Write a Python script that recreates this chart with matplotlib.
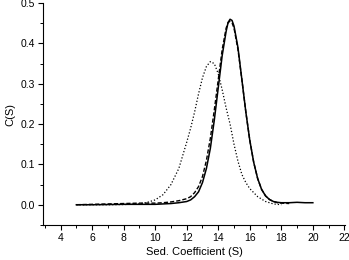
import numpy as np
import matplotlib as mpl
mpl.use("Agg")
import matplotlib.pyplot as plt
from matplotlib.ticker import MultipleLocator

# solid curve
solid_x = [5, 6, 7, 8, 9, 10, 10.5, 11, 11.5, 12, 12.25, 12.5, 12.75, 13.0, 13.25,
           13.5, 13.75, 14.0, 14.25, 14.5, 14.625, 14.75, 14.875, 15.0, 15.25, 15.5,
           15.75, 16.0, 16.25, 16.5, 16.75, 17.0, 17.25, 17.5, 17.75, 18, 18.5, 19,
           19.5, 20]
solid_y = [0.0, 0.0, 0.0005, 0.001, 0.001, 0.001, 0.002, 0.003, 0.005, 0.008, 0.012,
           0.02, 0.032, 0.055, 0.09, 0.14, 0.21, 0.29, 0.37, 0.43, 0.452, 0.46, 0.457,
           0.443, 0.39, 0.31, 0.23, 0.16, 0.105, 0.065, 0.038, 0.022, 0.013, 0.008,
           0.006, 0.005, 0.005, 0.006, 0.005, 0.005]

# dashed curve
dashed_x = [5, 6, 7, 8, 9, 10, 10.5, 11, 11.5, 12, 12.25, 12.5, 12.75, 13.0, 13.25,
            13.5, 13.75, 14.0, 14.25, 14.5, 14.625, 14.75, 14.875, 15.0, 15.25, 15.5,
            15.75, 16.0, 16.25, 16.5, 16.75, 17.0, 17.25, 17.5, 17.75, 18, 18.5]
dashed_y = [0.0, 0.001, 0.002, 0.003, 0.004, 0.004, 0.005, 0.007, 0.01, 0.015, 0.02,
            0.03, 0.045, 0.07, 0.11, 0.165, 0.235, 0.31, 0.385, 0.438, 0.452, 0.455,
            0.451, 0.438, 0.385, 0.31, 0.23, 0.16, 0.105, 0.065, 0.038, 0.022, 0.013,
            0.008, 0.005, 0.004, 0.003]

# dotted curve
dotted_x = [5, 6, 7, 8, 9, 9.5, 10, 10.5, 11, 11.5, 12, 12.25, 12.5, 12.75, 13.0,
            13.25, 13.5, 13.75, 14.0, 14.25, 14.5, 14.75, 15.0, 15.25, 15.5, 15.75,
            16.0, 16.5, 17.0, 17.5, 18]
dotted_y = [0.0, 0.0, 0.0, 0.0005, 0.002, 0.006, 0.012, 0.025, 0.05, 0.09, 0.155, 0.19,
            0.23, 0.275, 0.315, 0.343, 0.355, 0.35, 0.325, 0.285, 0.24, 0.2, 0.15,
            0.108, 0.075, 0.055, 0.04, 0.02, 0.008, 0.002, 0.0]

mpl.rcParams['font.family'] = 'Liberation Sans'

fig = plt.figure(figsize=(3.49, 2.60), dpi=100)
ax = fig.add_axes([0.123, 0.135, 0.866, 0.853])

ax.plot(solid_x, solid_y, '-', color='black', linewidth=1.1)
ax.plot(dashed_x, dashed_y, '--', color='black', linewidth=1.0, dashes=(3, 1.5))
ax.plot(dotted_x, dotted_y, ':', color='black', linewidth=0.9, dashes=(1, 1.6))

ax.set_xlim(2.88, 22.05)
ax.set_ylim(-0.05, 0.5)
ax.xaxis.set_minor_locator(MultipleLocator(1))
ax.yaxis.set_minor_locator(MultipleLocator(0.05))
ax.set_xticks(np.arange(4, 23, 2))
ax.set_xticklabels([str(v) for v in range(4, 23, 2)])
ax.set_yticks([0.0, 0.1, 0.2, 0.3, 0.4, 0.5])
ax.set_yticklabels(['0.0', '0.1', '0.2', '0.3', '0.4', '0.5'])

ax.spines['top'].set_visible(False)
ax.spines['right'].set_visible(False)
ax.tick_params(axis='both', which='major', direction='out', length=3.5, width=0.8,
               labelsize=7.5, pad=2)
ax.tick_params(axis='both', which='minor', direction='out', length=2, width=0.7)

ax.set_xlabel('Sed. Coefficient (S)', fontsize=8, labelpad=3)
ax.set_ylabel('C(S)', fontsize=8, labelpad=4)

fig.savefig('out.png', dpi=100)
